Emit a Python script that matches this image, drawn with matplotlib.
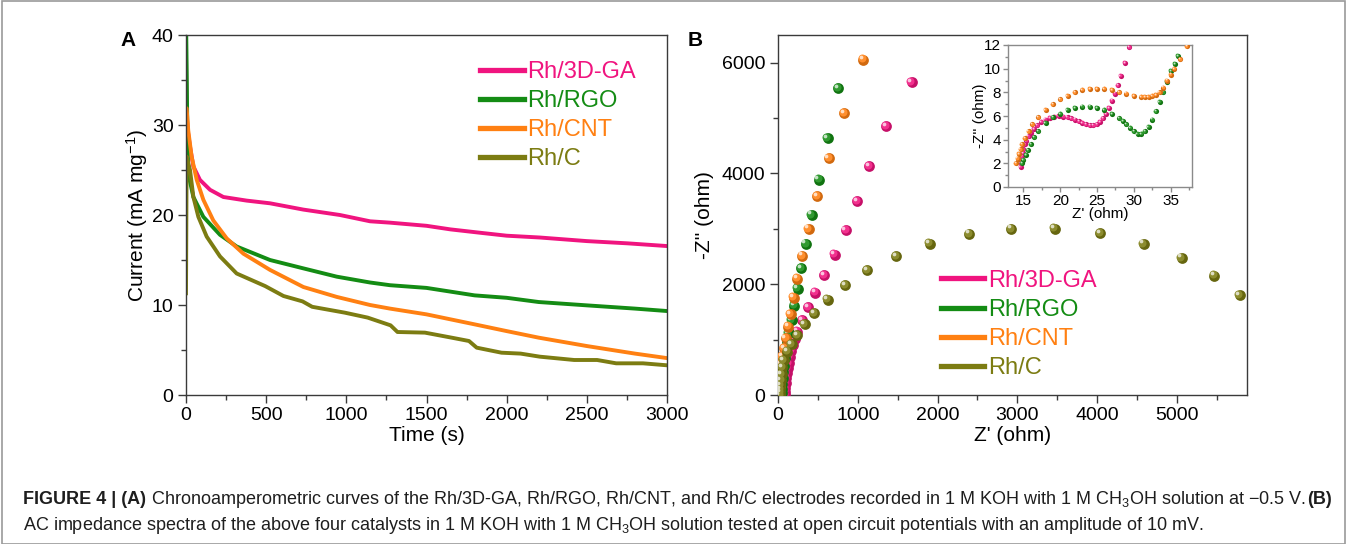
import numpy as np
import matplotlib
matplotlib.use("Agg")
import matplotlib.pyplot as plt
import matplotlib.transforms as mtransforms
from matplotlib.lines import Line2D
from matplotlib.patches import Rectangle
from matplotlib.ticker import MultipleLocator
from matplotlib.colors import to_rgb

plt.rcParams['font.family'] = ['Liberation Sans', 'DejaVu Sans']
plt.rcParams['mathtext.fontset'] = 'custom'
plt.rcParams['mathtext.rm'] = 'Liberation Sans'
plt.rcParams['mathtext.it'] = 'Liberation Sans:italic'
plt.rcParams['mathtext.bf'] = 'Liberation Sans:bold'

# ~~~~~~~~~~ data ~~~~~~~~~~
labels = ['Rh/3D-GA', 'Rh/RGO', 'Rh/CNT', 'Rh/C']
colors = ['#F0147F', '#148C14', '#FF8012', '#7C7C12']

# (A) chronoamperometry, time (s) / current (mA mg-1)
t_ga = [0, 4, 10, 25, 46, 87, 150, 233, 378, 524, 732, 960, 1148, 1272, 1500,
        1650, 1848, 2000, 2206, 2500, 2755, 3000]
i_ga = [38, 31.5, 29.5, 27.6, 25.4, 23.9, 22.8, 22.0, 21.6, 21.3, 20.6, 20.0,
        19.3, 19.15, 18.8, 18.4, 18.0, 17.7, 17.5, 17.1, 16.85, 16.55]
t_rgo = [0, 3, 8, 14, 46, 108, 212, 316, 524, 732, 940, 1148, 1272, 1500,
         1800, 2000, 2200, 2500, 2800, 3000]
i_rgo = [42, 38, 30, 24.6, 22.0, 19.8, 17.8, 16.5, 15.0, 14.07, 13.15, 12.5,
         12.2, 11.9, 11.07, 10.8, 10.33, 9.96, 9.6, 9.33]
t_cnt = [0, 4, 14, 35, 67, 108, 170, 254, 358, 524, 732, 940, 1148, 1272,
         1500, 1800, 2000, 2200, 2500, 2800, 3000]
i_cnt = [31.9, 31.85, 29.4, 26.5, 23.9, 21.7, 19.4, 17.4, 15.7, 13.9, 12.0,
         10.9, 10.0, 9.6, 8.96, 7.85, 7.1, 6.37, 5.44, 4.6, 4.1]
t_c = [0, 4, 25, 46, 77, 129, 212, 316, 494, 608, 727, 787, 990, 1133, 1276,
       1319, 1490, 1657, 1765, 1813, 1968, 2087, 2206, 2421, 2564, 2635, 2683,
       2850, 3000]
i_c = [11.3, 26.5, 25.0, 22.0, 19.8, 17.6, 15.4, 13.5, 12.1, 11.0, 10.4, 9.8,
       9.15, 8.6, 7.74, 7.0, 6.93, 6.37, 6.0, 5.26, 4.7, 4.6, 4.26, 3.89, 3.89,
       3.67, 3.52, 3.52, 3.3]

# (B) Nyquist plot, Z' / -Z'' (ohm)
zr_ga = [88, 90, 93, 97, 103, 110, 120, 132, 147, 165, 185, 210, 242, 302, 377,
         470, 581, 712, 851, 995, 1140, 1358, 1674]
zi_ga = [0, 60, 130, 210, 300, 390, 480, 580, 690, 800, 910, 1020, 1145, 1355,
         1584, 1849, 2163, 2536, 2976, 3494, 4127, 4849, 5651]
zr_rgo = [50, 51, 54, 58, 64, 72, 82, 95, 112, 135, 172, 205, 247, 293, 349,
          423, 512, 623, 753]
zi_rgo = [40, 110, 200, 300, 410, 530, 660, 800, 950, 1114, 1355, 1614, 1922,
          2289, 2729, 3253, 3886, 4639, 5536]
zr_cnt = [16, 17, 19, 22, 26, 32, 40, 51, 74, 98, 126, 158, 195, 242, 307, 386,
          493, 637, 828, 1070]
zi_cnt = [30, 90, 160, 240, 330, 440, 560, 693, 843, 1024, 1235, 1464, 1759,
          2102, 2512, 3000, 3590, 4277, 5090, 6054]
zr_c = [23, 24, 26, 30, 36, 44, 55, 70, 112, 172, 242, 335, 456, 623, 842,
        1121, 1479, 1902, 2395, 2926, 3470, 4037, 4586, 5060, 5470, 5786]
zi_c = [0, 40, 100, 180, 270, 380, 500, 633, 783, 922, 1084, 1277, 1482, 1723,
        1988, 2253, 2506, 2735, 2910, 3000, 3006, 2922, 2729, 2476, 2157, 1801]

# inset, high frequency region
in_zr_ga = [14.6, 14.65, 14.7, 14.8, 14.9, 15.0, 15.2, 15.4, 15.7, 16.0, 16.4,
            16.9, 17.4, 18.0, 18.6, 19.2, 19.8, 20.4, 21.0, 21.5, 22.0, 22.5,
            23.0, 23.5, 24.0, 24.5, 25.0, 25.4, 25.8, 26.2, 26.6, 27.0, 27.4,
            27.8, 28.2, 28.8, 29.4]
in_zi_ga = [1.7, 2.0, 2.3, 2.6, 2.9, 3.2, 3.6, 3.9, 4.3, 4.6, 4.9, 5.2, 5.5,
            5.7, 5.85, 5.95, 6.0, 5.95, 5.9, 5.8, 5.7, 5.55, 5.4, 5.3, 5.2,
            5.2, 5.3, 5.5, 5.8, 6.2, 6.7, 7.3, 7.9, 8.6, 9.4, 10.5, 11.8]
in_zr_rgo = [14.8, 15.0, 15.3, 15.6, 16.0, 16.5, 17.0, 18.0, 19.0, 20.0, 21.0,
             22.0, 23.0, 24.0, 25.0, 26.0, 27.0, 28.0, 28.5, 29.0, 29.5, 30.0,
             30.5, 31.0, 31.5, 32.0, 32.5, 33.0, 33.5, 34.0, 34.5, 35.0, 35.6,
             36.0]
in_zi_rgo = [2.0, 2.3, 2.7, 3.1, 3.6, 4.2, 4.7, 5.4, 5.9, 6.2, 6.5, 6.7, 6.8,
             6.8, 6.7, 6.5, 6.2, 5.8, 5.6, 5.3, 5.0, 4.7, 4.5, 4.5, 4.7, 5.1,
             5.7, 6.4, 7.2, 8.0, 8.9, 9.8, 10.4, 11.1]
in_zr_cnt = [14.0, 14.2, 14.4, 14.6, 14.8, 15.2, 15.7, 16.2, 17.0, 18.0, 19.0,
             20.0, 21.0, 22.0, 23.0, 24.0, 25.0, 26.0, 27.0, 28.0, 29.0, 30.0,
             31.0, 31.5, 32.0, 32.5, 33.0, 33.5, 34.0, 34.5, 35.0, 35.5, 36.3,
             37.2]
in_zi_cnt = [2.0, 2.4, 2.8, 3.2, 3.6, 4.1, 4.7, 5.3, 5.9, 6.5, 7.0, 7.4, 7.7,
             8.0, 8.2, 8.3, 8.3, 8.3, 8.2, 8.0, 7.9, 7.7, 7.6, 7.6, 7.6, 7.7,
             7.8, 8.0, 8.4, 9.0, 9.5, 10.0, 10.8, 11.9]

W, H = 1346, 544
fig = plt.figure(figsize=(W / 100, H / 100), dpi=100)


def fbox(x0, y0, x1, y1):
    # pixel box -> figure fraction [left, bottom, width, height]
    return [x0 / W, 1 - y1 / H, (x1 - x0) / W, (y1 - y0) / H]


def style_axes(ax, size=14, spine='#3a3a3a', major=6, minor=3.5):
    for s in ax.spines.values():
        s.set_color(spine)
        s.set_linewidth(1.0)
    ax.tick_params(which='major', length=major, width=1.0, color=spine,
                   labelsize=size, pad=3)
    ax.tick_params(which='minor', length=minor, width=1.0, color=spine)


def lighten(c, f):
    r, g, b = to_rgb(c)
    return (r + (1 - r) * f, g + (1 - g) * f, b + (1 - b) * f)


def darken(c, f):
    r, g, b = to_rgb(c)
    return (r * (1 - f), g * (1 - f), b * (1 - f))


def balls(ax, x, y, color, s, d):
    # shaded spheres: dark body, lighter body, highlight spot up-left
    ax.scatter(x, y, s=s, color=darken(color, 0.18), linewidths=0, zorder=3)
    off1 = mtransforms.ScaledTranslation(-d * 0.12 / 72, d * 0.12 / 72, fig.dpi_scale_trans)
    ax.scatter(x, y, s=s * 0.55, color=lighten(color, 0.12), linewidths=0,
               zorder=3, transform=ax.transData + off1)
    off2 = mtransforms.ScaledTranslation(-d * 0.22 / 72, d * 0.22 / 72, fig.dpi_scale_trans)
    ax.scatter(x, y, s=s * 0.12, color=lighten(color, 0.75), linewidths=0,
               zorder=3, transform=ax.transData + off2)


## ~~~~~~~~~~ panel A ~~~~~~~~~~
axA = fig.add_axes(fbox(186, 35, 667, 395))
for t, i, c, lab in zip([t_ga, t_rgo, t_cnt, t_c], [i_ga, i_rgo, i_cnt, i_c],
                        colors, labels):
    axA.plot(t, i, color=c, lw=2.8, label=lab, solid_joinstyle='round')
axA.set_xlim(0, 3000)
axA.set_ylim(0, 40)
axA.xaxis.set_major_locator(MultipleLocator(500))
axA.xaxis.set_minor_locator(MultipleLocator(250))
axA.yaxis.set_major_locator(MultipleLocator(10))
axA.yaxis.set_minor_locator(MultipleLocator(5))
style_axes(axA)
axA.set_xlabel('Time (s)', fontsize=15, labelpad=1)
axA.set_ylabel('Current (mA mg$^{-1}$)', fontsize=15, labelpad=1)
legA = axA.legend(loc='upper left', bbox_to_anchor=(0.612, 0.928), frameon=False,
                  fontsize=17, handlelength=1.85, handletextpad=0.15,
                  labelspacing=0.3, borderpad=0, borderaxespad=0,
                  labelcolor='linecolor')
for h in legA.legend_handles:
    h.set_linewidth(3.8)

## ~~~~~~~~~~ panel B ~~~~~~~~~~
axB = fig.add_axes(fbox(778, 35, 1247, 395))
for x, y, c in zip([zr_ga, zr_rgo, zr_cnt, zr_c], [zi_ga, zi_rgo, zi_cnt, zi_c], colors):
    balls(axB, x, y, c, 60, 7.8)
axB.set_xlim(0, 5880)
axB.set_ylim(0, 6500)
axB.xaxis.set_major_locator(MultipleLocator(1000))
axB.xaxis.set_minor_locator(MultipleLocator(500))
axB.yaxis.set_major_locator(MultipleLocator(2000))
axB.yaxis.set_minor_locator(MultipleLocator(1000))
style_axes(axB)
axB.set_xlabel("Z' (ohm)", fontsize=15, labelpad=1)
axB.set_ylabel("-Z'' (ohm)", fontsize=15, labelpad=6)
proxies = [Line2D([], [], color=c, lw=3.8) for c in colors]
legB = axB.legend(proxies, labels, loc='upper left', bbox_to_anchor=(0.347, 0.348),
                  frameon=False, fontsize=17, handlelength=1.85,
                  handletextpad=0.15, labelspacing=0.3, borderpad=0,
                  borderaxespad=0, labelcolor='linecolor')

# inset
axI = fig.add_axes(fbox(1008, 45, 1192, 187))
for x, y, c in zip([in_zr_ga, in_zr_rgo, in_zr_cnt], [in_zi_ga, in_zi_rgo, in_zi_cnt],
                   colors[:3]):
    balls(axI, x, y, c, 14, 3.7)
axI.set_xlim(12.9, 37.9)
axI.set_ylim(0, 12)
axI.xaxis.set_major_locator(MultipleLocator(5))
axI.xaxis.set_minor_locator(MultipleLocator(2.5))
axI.yaxis.set_major_locator(MultipleLocator(2))
axI.yaxis.set_minor_locator(MultipleLocator(1))
style_axes(axI, size=11, spine='#8a8a8a', major=3.5, minor=2)
axI.tick_params(axis='both', which='major', pad=1.5)
axI.set_xlabel("Z' (ohm)", fontsize=11, labelpad=-1)
axI.set_ylabel("-Z'' (ohm)", fontsize=11, labelpad=-2)

# panel letters
fig.text(128 / W, 1 - 40 / H, 'A', fontsize=15, fontweight='bold', ha='center', va='center')
fig.text(695 / W, 1 - 40 / H, 'B', fontsize=15, fontweight='bold', ha='center', va='center')

# outer frame
fig.patches.append(Rectangle((1.5 / W, 0.5 / H), (W - 3) / W, (H - 1.5) / H,
                             transform=fig.transFigure, fill=False,
                             edgecolor='#9a9a9a', lw=1.2))

## ~~~~~~~~~~ caption ~~~~~~~~~~
cap1 = [('FIGURE 4 | (A)', 'bold'),
        (' Chronoamperometric curves of the Rh/3D-GA, Rh/RGO, Rh/CNT, and Rh/C '
         'electrodes recorded in 1 M KOH with 1 M CH$_\\mathregular{3}$OH solution '
         'at \u22120.5 V. ', 'normal'),
        ('(B)', 'bold')]
cap2 = [('AC impedance spectra of the above four catalysts in 1 M KOH with 1 M '
         'CH$_\\mathregular{3}$OH solution tested at open circuit potentials with '
         'an amplitude of 10 mV.', 'normal')]

renderer = fig.canvas.get_renderer()
for runs, ypix in [(cap1, 497), (cap2, 523)]:
    xpix = 23
    for txt, weight in runs:
        t = fig.text(xpix / W, 1 - ypix / H, txt, fontsize=13, fontweight=weight,
                     color='#1e1e1e', ha='left', va='center_baseline')
        bb = t.get_window_extent(renderer=renderer)
        xpix += bb.width

fig.savefig('out.png', dpi=100)
